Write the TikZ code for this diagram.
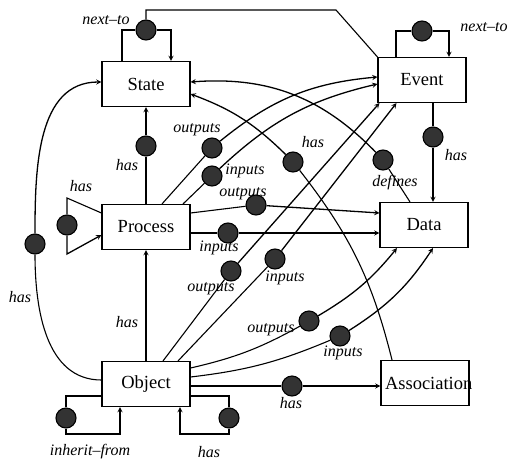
\documentclass[tikz,border=0pt]{standalone}
\usepackage{fontspec}
\setmainfont{Liberation Serif}
\usetikzlibrary{arrows,positioning}

\begin{document}
\begin{tikzpicture}[
  x=1pt, y=-1pt,
  line width=1.1pt,
  box/.style={rectangle, draw, minimum width=88pt, minimum height=45pt, inner sep=4pt, font=\fontsize{18.5}{20}\selectfont},
  dot/.style={circle, draw, fill=black!80, minimum size=20pt, inner sep=0pt},
  lbl/.style={font=\fontsize{16}{18}\selectfont\itshape, inner sep=1pt},
  arrow/.style={->, >=stealth, line width=1.3pt}
]
  \useasboundingbox (0,0) rectangle (518,460);
  % Boxes
  \node[box] (state) at (146,84) {State};
  \node[box] (event) at (422,80) {Event};
  \node[box] (proc) at (146,227) {Process};
  \node[box] (data) at (424,225) {Data};
  \node[box] (obj) at (146,384) {Object};
  \node[box] (assoc) at (425,383) {\makebox[80pt][l]{Association}};
  % Relation dots
  \node[dot] (nxs) at (146,30) {};
  \node[dot] (nxe) at (422,31) {};
  \node[dot] (hasev) at (433,137) {};
  \node[dot] (hasps) at (146,146) {};
  \node[dot] (hasp) at (67,225) {};
  \node[dot] (hasos) at (35,244) {};
  \node[dot] (inh) at (66,418) {};
  \node[dot] (haso) at (229,418) {};
  \node[dot] (hasoa) at (292,386) {};
  \node[dot] (hasas) at (293,162) {};
  \node[dot] (def) at (383,160) {};
  \node[dot] (outpe) at (212,148) {};
  \node[dot] (inpe) at (212,176) {};
  \node[dot] (outpd) at (256,205) {};
  \node[dot] (inpd) at (228,233) {};
  \node[dot] (outoe) at (231,271) {};
  \node[dot] (inoe) at (275,259) {};
  \node[dot] (outod) at (309,321) {};
  \node[dot] (inod) at (340,336) {};
  % Corners
  \coordinate (tl) at (146,10);
  \coordinate (tr) at (336,10);
  \coordinate (ptop) at (67,198);
  \coordinate (pbot) at (67,254);
  \coordinate (ibl) at (66,434);
  \coordinate (ibr) at (120,434);
  \coordinate (hbr) at (229,434);
  \coordinate (hbl) at (180,434);
  % Labels
  \node[lbl] (lnxs) at (106,20) {next--to};
  \node[lbl] (lnxe) at (484,27) {next--to};
  \node[lbl] (lhasev) at (456,155) {has};
  \node[lbl] (lhasps) at (127,165) {has};
  \node[lbl] (lhasp) at (81,186) {has};
  \node[lbl] (lhasos) at (20,297) {has};
  \node[lbl] (lhasop) at (127,322) {has};
  \node[lbl] (linh) at (90,452) {inherit--from};
  \node[lbl] (lhaso) at (209,452) {has};
  \node[lbl] (lhasoa) at (291,403) {has};
  \node[lbl] (lhasas) at (313,142) {has};
  \node[lbl] (ldef) at (395,183) {defines};
  \node[lbl] (loutpe) at (197,130) {outputs};
  \node[lbl] (linpe) at (245,171) {inputs};
  \node[lbl] (loutpd) at (243,194) {outputs};
  \node[lbl] (linpd) at (219,248) {inputs};
  \node[lbl] (loutoe) at (211,289) {outputs};
  \node[lbl] (linoe) at (285,278) {inputs};
  \node[lbl] (loutod) at (271,330) {outputs};
  \node[lbl] (linod) at (343,353) {inputs};
  % Self loops
  \draw ([xshift=-24pt]state.north) |- (nxs);
  \draw[arrow] (nxs) -| ([xshift=25pt]state.north);
  \draw (nxs) -- (tl) -- (tr) -- (event.north west);
  \draw ([xshift=-26pt]event.north) |- (nxe);
  \draw[arrow] (nxe) -| ([xshift=27pt]event.north);
  \draw ([yshift=14pt]proc.west) -- (ptop) -- (hasp);
  \draw[arrow] (hasp) -- (pbot) -- ([yshift=-8pt]proc.west);
  \draw ([yshift=-12pt]obj.west) -| (inh);
  \draw[arrow] (inh) -- (ibl) -- (ibr) -- (ibr |- obj.south);
  \draw ([yshift=-12pt]obj.east) -| (haso);
  \draw[arrow] (haso) -- (hbr) -- (hbl) -- (hbl |- obj.south);
  % has
  \draw (event.south -| hasev) -- (hasev);
  \draw[arrow] (hasev) -- (hasev |- data.north);
  \draw (proc) -- (hasps);
  \draw[arrow] (hasps) -- (state);
  \draw[arrow] (obj) -- (proc);
  \draw ([yshift=4pt]obj.west) to[out=180, in=-90] (hasos);
  \draw[arrow] (hasos) to[out=90, in=180] ([yshift=2pt]state.west);
  \draw (obj.east |- hasoa) -- (hasoa);
  \draw[arrow] (hasoa) -- (hasoa -| assoc.west);
  \draw ([xshift=-33pt]assoc.north) to[bend right=12] (hasas);
  \draw[arrow] (hasas) to[bend right=12] ([yshift=-10pt]state.east);
  \draw ([xshift=-14pt]data.north) -- (def);
  \draw[arrow] (def) to[bend right=25] ([yshift=2pt]state.east);
  % inputs / outputs
  \draw ([xshift=16pt]proc.north) -- (outpe);
  \draw[arrow] (outpe) to[bend left=17] ([yshift=3pt]event.west);
  \draw ([xshift=37pt]proc.north) -- (inpe);
  \draw[arrow] (inpe) to[bend left=15] ([yshift=-4pt]event.west);
  \draw ([yshift=14pt]proc.east) -- (outpd);
  \draw[arrow] (outpd) -- ([yshift=12pt]data.west);
  \draw ([yshift=-6pt]proc.east) -- (inpd);
  \draw[arrow] (inpd) -- ([yshift=-8pt]data.west);
  \draw ([xshift=17pt]obj.north) -- (outoe);
  \draw[arrow] (outoe) -- ([xshift=2pt]event.south west);
  \draw ([xshift=32pt]obj.north) -- (inoe);
  \draw[arrow] (inoe) -- ([xshift=19pt]event.south west);
  \draw ([yshift=16pt]obj.east) to[bend right=8] (outod);
  \draw[arrow] (outod) to[bend right=10] ([xshift=-27pt]data.south);
  \draw ([yshift=7pt]obj.east) to[bend right=8] (inod);
  \draw[arrow] (inod) to[bend right=12] ([xshift=9pt]data.south);
\end{tikzpicture}
\end{document}
